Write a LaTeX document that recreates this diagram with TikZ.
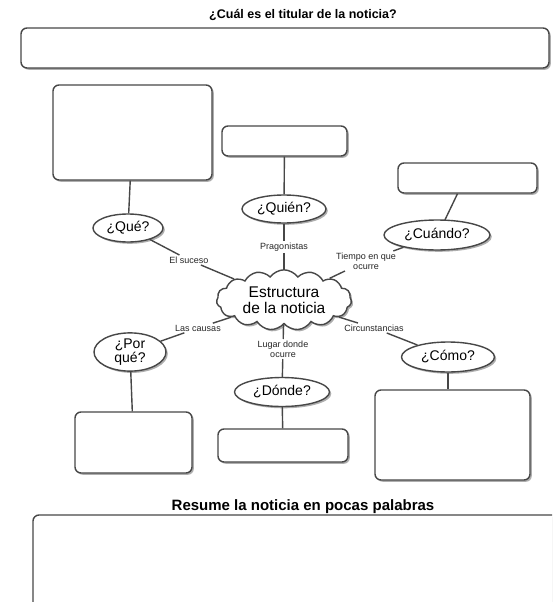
\documentclass[tikz,border=0pt]{standalone}
\usepackage{fontspec}
\setmainfont{Liberation Sans}
\usetikzlibrary{shapes.geometric,shapes.symbols,shadows,calc}
\begin{document}
\begin{tikzpicture}[x=1pt,y=-1pt,
  line/.style={draw=black!72,line width=1.4pt},
  shad/.style={drop shadow={shadow xshift=1.8pt,shadow yshift=-1.8pt,fill=black!45,opacity=.7}},
  boxx/.style={line,rounded corners=6pt,fill=white,shad},
  oval/.style={ellipse,line,fill=white,shad,inner sep=0pt,font=\fontsize{14}{15}\selectfont},
  lbl/.style={font=\fontsize{9}{10}\selectfont,inner sep=1.5pt,align=center,text=black!85},
  head/.style={font=\bfseries\fontsize{14.5}{16}\selectfont}]
\useasboundingbox (0,0) rectangle (552,602);
\clip (0,0) rectangle (552,602);
\fill[white] (0,0) rectangle (552,602);

% headings
\node[head,font=\bfseries\fontsize{12.5}{14}\selectfont] (t1) at (303,15) {¿Cuál es el titular de la noticia?};
\node[head,font=\bfseries\fontsize{15}{16}\selectfont] (t2) at (303,507) {Resume la noticia en pocas palabras};

% answer boxes
\path[boxx] (21,28) rectangle (549,68);
\path[boxx] (33,515) rectangle (570,620);
\node[boxx,minimum width=159pt,minimum height=95pt] (quebox) at (132.5,132.5) {};
\node[boxx,minimum width=125pt,minimum height=30pt] (quienbox) at (284.5,141) {};
\node[boxx,minimum width=139pt,minimum height=30pt] (cuandobox) at (467.5,178) {};
\node[boxx,minimum width=117pt,minimum height=61pt] (porquebox) at (133.5,442.5) {};
\node[boxx,minimum width=130pt,minimum height=33pt] (dondebox) at (283,445.5) {};
\node[boxx,minimum width=155pt,minimum height=90pt] (comobox) at (452.5,435) {};

% center cloud
\node[cloud,cloud puffs=15,cloud puff arc=110,aspect=2.4,line,fill=white,shad,
  minimum width=135pt,minimum height=52pt,inner sep=0pt,align=center,
  font=\fontsize{15.5}{15.5}\selectfont] (cloud) at (284,300) {Estructura\\de la noticia};

% question ovals
\node[oval,minimum width=70pt,minimum height=28pt] (que) at (128,228) {¿Qué?};
\node[oval,minimum width=84pt,minimum height=28pt] (quien) at (284,209) {¿Quién?};
\node[oval,minimum width=106pt,minimum height=30pt] (cuando) at (437,235) {¿Cuándo?};
\node[oval,minimum width=72pt,minimum height=37pt,align=center,font=\fontsize{14}{14.5}\selectfont] (porque) at (130,352) {¿Por\\qué?};
\node[oval,minimum width=95pt,minimum height=29pt] (donde) at (282,392) {¿Dónde?};
\node[oval,minimum width=93pt,minimum height=30pt] (como) at (448,357) {¿Cómo?};

% labels
\node[lbl] (l1) at (189,260) {El suceso};
\node[lbl] (l2) at (284,247) {Pragonistas};
\node[lbl] (l3) at (366,261) {Tiempo en que\\ocurre};
\node[lbl] (l4) at (198,328) {Las causas};
\node[lbl] (l5) at (283,349) {Lugar donde\\ocurre};
\node[lbl] (l6) at (374,328) {Circunstancias};

% connectors
\begin{scope}[line width=1.4pt,draw=black!72]
\draw (quebox) -- (que);
\draw (quienbox) -- (quien);
\draw ($(cuandobox.south)+(-10,0)$) -- ($(cuando.north)+(8,0.5)$);
\draw (porque) -- (porquebox);
\draw (donde) -- (dondebox);
\draw (como.south) -- (como.south |- comobox.north);
\draw (que) -- (l1);  \draw (l1) -- (cloud);
\draw (quien) -- (l2); \draw (l2) -- (cloud);
\draw (cuando) -- (l3); \draw (l3) -- (cloud);
\draw (porque) -- (l4); \draw (l4) -- (cloud);
\draw (cloud) -- (l5); \draw (l5) -- (donde);
\draw (cloud) -- (l6); \draw (l6) -- (como);
\end{scope}
\end{tikzpicture}
\end{document}
